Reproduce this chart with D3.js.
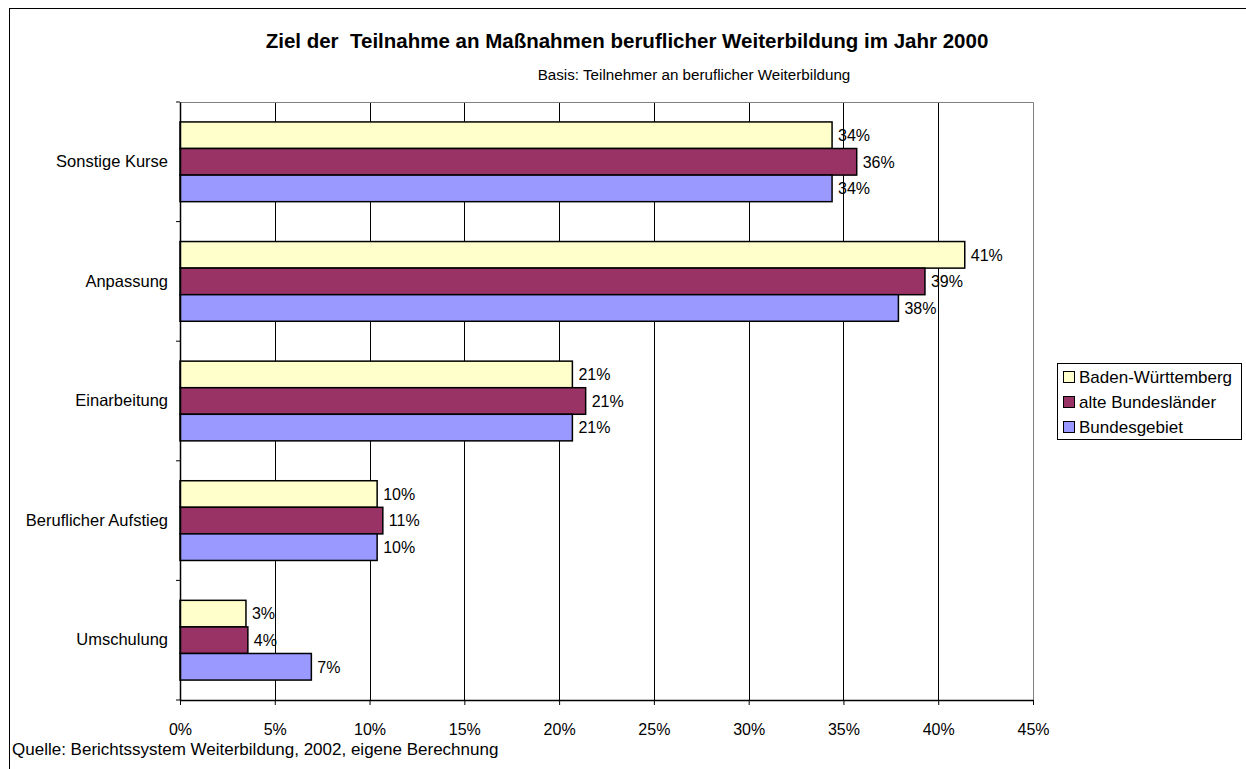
<!DOCTYPE html>
<html><head><meta charset="utf-8">
<script src="https://cdn.jsdelivr.net/npm/d3@7"></script>
<style>body{margin:0;background:#fff}svg{display:block}text{font-family:"Liberation Sans",Arial,sans-serif;fill:#000}</style>
</head><body>
<script>
const categories = ["Sonstige Kurse","Anpassung","Einarbeitung","Beruflicher Aufstieg","Umschulung"];
const seriesNames = ["Baden-Württemberg","alte Bundesländer","Bundesgebiet"];
const seriesColors = ["#FFFFCC","#993366","#9999FF"];
const valuesBW   = [0.344, 0.414, 0.207, 0.104, 0.0348];
const valuesAlte = [0.357, 0.393, 0.214, 0.107, 0.0358];
const valuesBund = [0.344, 0.379, 0.207, 0.104, 0.0693];
const xTicks = [0,0.05,0.10,0.15,0.20,0.25,0.30,0.35,0.40,0.45];
const titleText = "Ziel der  Teilnahme an Maßnahmen beruflicher Weiterbildung im Jahr 2000";
const subtitleText = "Basis: Teilnehmer an beruflicher Weiterbildung";
const sourceText = "Quelle: Berichtssystem Weiterbildung, 2002, eigene Berechnung";

const W=1246,H=769;
const svg=d3.select("body").append("svg").attr("width",W).attr("height",H);
svg.append("rect").attr("x",9.5).attr("y",8.5).attr("width",1246).attr("height",800).attr("fill","#fff").attr("stroke","#000");

const L=180,R=1033,T=102,B=700;
const x=d3.scaleLinear().domain([0,0.45]).range([L,R]);
const y=d3.scaleBand().domain(categories).range([T,B]);
const yi=d3.scaleBand().domain(seriesNames).range([0,y.bandwidth()]).paddingOuter(0.75);

// gridlines
svg.append("g").selectAll("line").data(xTicks.slice(1,-1)).join("line")
 .attr("x1",d=>Math.round(x(d))+0.5).attr("x2",d=>Math.round(x(d))+0.5)
 .attr("y1",T).attr("y2",B).attr("stroke","#000").attr("stroke-width",1);
// plot border top/right
svg.append("path").attr("d",`M${L},${T+0.5}H${R+0.5}V${B}`).attr("fill","none").attr("stroke","#808080");

const data=[valuesBW,valuesAlte,valuesBund];
const g=svg.append("g");
categories.forEach((c,ci)=>{
  seriesNames.forEach((s,si)=>{
    const v=data[si][ci];
    const y0=y(c)+yi(s);
    g.append("rect").attr("x",x(0)).attr("y",y0).attr("width",x(v)-x(0)).attr("height",yi.bandwidth())
     .attr("fill",seriesColors[si]).attr("stroke","#000").attr("stroke-width",1.5);
    g.append("text").attr("x",x(v)+6).attr("y",y0+yi.bandwidth()/2).attr("dy","0.36em")
     .attr("font-size",16).text(d3.format(".0%")(v));
  });
});

// x axis
const xa=svg.append("g").attr("transform",`translate(0,${B})`)
 .call(d3.axisBottom(x).tickValues(xTicks).tickFormat(d3.format(".0%")).tickSize(5).tickSizeOuter(0));
xa.select(".domain").attr("stroke","#000").attr("stroke-width",1.5);
xa.selectAll(".tick line").attr("stroke","#000");
xa.selectAll(".tick text").attr("font-size",16).attr("font-family","Liberation Sans, Arial").attr("y",35).attr("dy",0).attr("fill","#000");

// y axis
const ya=svg.append("g").attr("transform",`translate(${L},0)`)
 .call(d3.axisLeft(y).tickSize(0).tickPadding(12));
ya.select(".domain").attr("stroke","#000").attr("stroke-width",1.5);
ya.selectAll(".tick text").attr("font-size",16.5).attr("font-family","Liberation Sans, Arial").attr("fill","#000");
svg.append("g").selectAll("line").data(d3.range(categories.length+1)).join("line")
 .attr("x1",L-4).attr("x2",L).attr("y1",i=>T+i*y.step()).attr("y2",i=>T+i*y.step()).attr("stroke","#000");

// titles
svg.append("text").attr("x",627).attr("y",48).attr("text-anchor","middle").attr("font-size",20.5).attr("font-weight","bold").style("white-space","pre").text(titleText);
svg.append("text").attr("x",694).attr("y",80).attr("text-anchor","middle").attr("font-size",15.2).text(subtitleText);
svg.append("text").attr("x",12).attr("y",755).attr("font-size",17).text(sourceText);

// legend
const lg=svg.append("g");
lg.append("rect").attr("x",1057.5).attr("y",363.5).attr("width",184).attr("height",76).attr("fill","#fff").attr("stroke","#000");
seriesNames.forEach((s,i)=>{
  const cy=377+i*25;
  lg.append("rect").attr("x",1063.5).attr("y",cy-5.5).attr("width",11).attr("height",11).attr("fill",seriesColors[i]).attr("stroke","#000");
  lg.append("text").attr("x",1079).attr("y",cy).attr("dy","0.36em").attr("font-size",17).text(s);
});
</script>
</body></html>
